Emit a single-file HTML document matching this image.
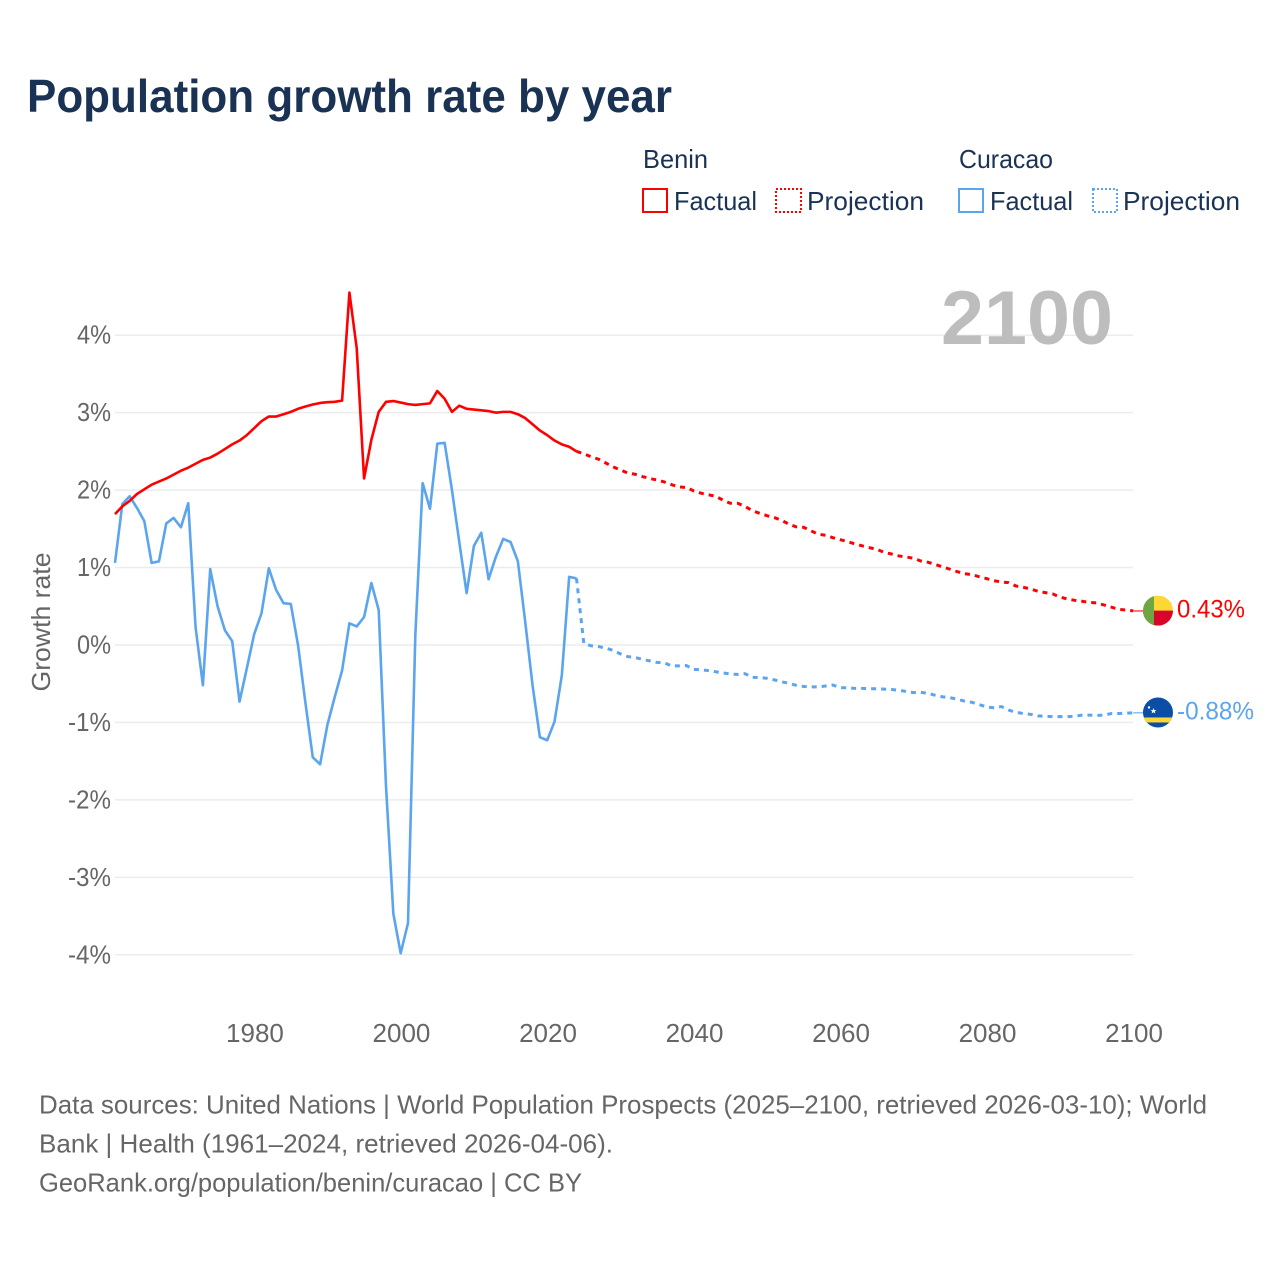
<!DOCTYPE html>
<html lang="en">
<head>
<meta charset="utf-8">
<title>Population growth rate by year</title>
<style>
html,body{margin:0;padding:0;background:#fff;}
svg{display:block;font-family:"Liberation Sans",sans-serif;}
</style>
</head>
<body>
<svg id="chart" xmlns="http://www.w3.org/2000/svg" width="1280" height="1280" viewBox="0 0 1280 1280">
  <rect x="0" y="0" width="1280" height="1280" fill="#fff"/>
  <text x="27" y="112" font-size="46" font-weight="700" fill="#1a3355" textLength="645" lengthAdjust="spacingAndGlyphs">Population growth rate by year</text>

  <g font-size="26" fill="#1a3355">
    <text x="643" y="168" textLength="65" lengthAdjust="spacingAndGlyphs">Benin</text>
    <rect x="643" y="189" width="24" height="23" fill="none" stroke="#ff0000" stroke-width="2"/>
    <text x="674" y="210" textLength="83" lengthAdjust="spacingAndGlyphs">Factual</text>
    <rect x="776" y="189" width="25" height="23" fill="none" stroke="#ff0000" stroke-width="2" stroke-dasharray="2 2"/>
    <text x="807" y="210" textLength="117" lengthAdjust="spacingAndGlyphs">Projection</text>

    <text x="959" y="168" textLength="94" lengthAdjust="spacingAndGlyphs">Curacao</text>
    <rect x="959" y="189" width="24" height="23" fill="none" stroke="#5ba4ee" stroke-width="2"/>
    <text x="990" y="210" textLength="83" lengthAdjust="spacingAndGlyphs">Factual</text>
    <rect x="1093" y="189" width="24" height="23" fill="none" stroke="#5ba4ee" stroke-width="2" stroke-dasharray="2 2"/>
    <text x="1123" y="210" textLength="117" lengthAdjust="spacingAndGlyphs">Projection</text>
  </g>

  <g id="grid"></g>
  <g id="y-axis" font-size="26" fill="#666"></g>
  <g id="x-axis" font-size="26" fill="#666"></g>

  <text x="941" y="344" font-size="76" font-weight="700" fill="#bdbdbd" textLength="172" lengthAdjust="spacingAndGlyphs">2100</text>
  <text transform="translate(50 622) rotate(-90)" text-anchor="middle" font-size="26" fill="#666" textLength="139" lengthAdjust="spacingAndGlyphs">Growth rate</text>

  <g id="series"></g>

  <g id="flag-benin">
    <clipPath id="clip-benin"><circle cx="15" cy="15" r="15"/></clipPath>
    <g clip-path="url(#clip-benin)">
      <rect x="0" y="0" width="30" height="30" fill="#fdd835"/>
      <rect x="0" y="15" width="30" height="15" fill="#d9042b"/>
      <rect x="0" y="0" width="11" height="30" fill="#6ea644"/>
    </g>
  </g>
  <g id="flag-curacao">
    <clipPath id="clip-curacao"><circle cx="15" cy="15" r="15"/></clipPath>
    <g clip-path="url(#clip-curacao)">
      <rect x="0" y="0" width="30" height="30" fill="#0a4ea6"/>
      <rect x="0" y="20" width="30" height="5" fill="#fdd835"/>
      <circle cx="6" cy="10" r="1.2" fill="#fff"/>
      <polygon points="10.5,10.5 11.3,12.6 13.5,12.6 11.8,13.9 12.4,16 10.5,14.8 8.6,16 9.2,13.9 7.5,12.6 9.7,12.6" fill="#fff"/>
    </g>
  </g>
  <text id="end-label-benin" x="1177" font-size="25" fill="#ff0000" textLength="68" lengthAdjust="spacingAndGlyphs"></text>
  <text id="end-label-curacao" x="1177" font-size="25" fill="#5ba4ee" textLength="77" lengthAdjust="spacingAndGlyphs"></text>

  <g font-size="26" fill="#666">
    <text x="39" y="1113.5" textLength="1168" lengthAdjust="spacingAndGlyphs">Data sources: United Nations | World Population Prospects (2025–2100, retrieved 2026-03-10); World</text>
    <text x="39" y="1152.5" textLength="574" lengthAdjust="spacingAndGlyphs">Bank | Health (1961–2024, retrieved 2026-04-06).</text>
    <text x="39" y="1191.5" textLength="543" lengthAdjust="spacingAndGlyphs">GeoRank.org/population/benin/curacao | CC BY</text>
  </g>
</svg>

<script>
// Chart data (percent growth per year)
const factualStartYear = 1961;
const projectionStartYear = 2024;
const xTickYears = [1980, 2000, 2020, 2040, 2060, 2080, 2100];
const yTickValues = [4, 3, 2, 1, 0, -1, -2, -3, -4];
const endLabelBenin = "0.43%";
const endLabelCuracao = "-0.88%";

const beninFactual = [
  1.69,1.79,1.86,1.95,2.01,2.07,2.11,2.15,2.20,2.25,
  2.29,2.34,2.39,2.42,2.47,2.53,2.59,2.64,2.71,2.80,
  2.89,2.95,2.95,2.98,3.01,3.05,3.08,3.105,3.125,3.135,
  3.14,3.155,4.55,3.83,2.15,2.65,3.01,3.14,3.15,3.13,
  3.11,3.10,3.11,3.12,3.28,3.18,3.01,3.09,3.05,3.04,
  3.03,3.02,3.00,3.01,3.01,2.98,2.93,2.85,2.77,2.71,
  2.64,2.59,2.56,2.50
];
const beninProjection = [
  2.50,2.47,2.43,2.40,2.35,2.30,2.26,2.22,2.205,2.175,
  2.15,2.13,2.105,2.07,2.04,2.035,1.99,1.96,1.94,1.92,
  1.87,1.83,1.83,1.79,1.735,1.70,1.67,1.645,1.61,1.56,
  1.525,1.52,1.475,1.43,1.417,1.385,1.36,1.335,1.305,1.28,
  1.257,1.235,1.197,1.175,1.15,1.137,1.12,1.085,1.068,1.04,
  1.007,0.978,0.947,0.92,0.908,0.88,0.857,0.83,0.814,0.805,
  0.762,0.745,0.723,0.694,0.676,0.66,0.62,0.594,0.577,0.565,
  0.55,0.543,0.517,0.49,0.46,0.452,0.44
];
const curacaoFactual = [
  1.06,1.82,1.92,1.77,1.60,1.06,1.08,1.57,1.64,1.52,
  1.83,0.23,-0.52,0.98,0.50,0.19,0.05,-0.73,-0.30,0.14,
  0.41,0.99,0.71,0.54,0.53,-0.01,-0.75,-1.45,-1.54,-1.03,
  -0.67,-0.33,0.28,0.24,0.36,0.80,0.45,-1.83,-3.47,-3.98,
  -3.59,0.13,2.09,1.76,2.60,2.61,2.00,1.33,0.67,1.28,
  1.45,0.85,1.14,1.37,1.33,1.08,0.30,-0.52,-1.19,-1.23,
  -0.99,-0.39,0.88,0.86
];
const curacaoProjection = [
  0.86,0.02,-0.01,-0.02,-0.04,-0.07,-0.115,-0.15,-0.16,-0.185,
  -0.205,-0.225,-0.23,-0.27,-0.27,-0.265,-0.315,-0.32,-0.33,-0.345,
  -0.36,-0.375,-0.38,-0.37,-0.417,-0.42,-0.43,-0.45,-0.475,-0.495,
  -0.52,-0.535,-0.54,-0.54,-0.53,-0.517,-0.55,-0.555,-0.56,-0.56,
  -0.565,-0.565,-0.57,-0.575,-0.585,-0.60,-0.615,-0.61,-0.625,-0.65,
  -0.67,-0.68,-0.70,-0.725,-0.74,-0.77,-0.80,-0.81,-0.795,-0.84,
  -0.87,-0.885,-0.895,-0.915,-0.92,-0.925,-0.925,-0.925,-0.92,-0.905,
  -0.905,-0.91,-0.905,-0.885,-0.885,-0.88,-0.875
];

const SVG_NS = "http://www.w3.org/2000/svg";
const xScale = function (year) { return 115 + (year - 1961) * (1133.2 - 115) / (2100 - 1961); };
const yScale = function (v) { return 645 - v * 77.45; };

function svgEl(tag, parent) {
  const el = document.createElementNS(SVG_NS, tag);
  parent.appendChild(el);
  return el;
}

// Gridlines and y tick labels
const gridGroup = document.getElementById("grid");
const yAxisGroup = document.getElementById("y-axis");
yTickValues.forEach(function (v) {
  const line = svgEl("line", gridGroup);
  
  
  line.setAttribute("x1", 115);
  line.setAttribute("x2", 1133);
  line.setAttribute("y1", yScale(v));
  line.setAttribute("y2", yScale(v));
  line.setAttribute("stroke", "#ececec");
  line.setAttribute("stroke-width", "1.5");

  const label = svgEl("text", yAxisGroup);
  
  
  label.setAttribute("x", 111);
  label.setAttribute("y", yScale(v) + 8.5);
  label.setAttribute("text-anchor", "end");
  label.setAttribute("textLength", v < 0 ? 43 : 34);
  label.setAttribute("lengthAdjust", "spacingAndGlyphs");
  label.textContent = v + "%";
});

// X tick labels
const xAxisGroup = document.getElementById("x-axis");
xTickYears.forEach(function (year) {
  const label = svgEl("text", xAxisGroup);
  
  
  label.setAttribute("x", xScale(year) + 0.8);
  label.setAttribute("y", 1042);
  label.setAttribute("text-anchor", "middle");
  label.textContent = year;
});

// Series lines
const seriesGroup = document.getElementById("series");
function toPoints(values, startYear) {
  return values.map(function (v, i) {
    return xScale(startYear + i).toFixed(2) + "," + yScale(v).toFixed(2);
  }).join(" ");
}
function drawLine(values, startYear, color, dashed, name) {
  const pl = svgEl("polyline", seriesGroup);
  
  
  pl.setAttribute("points", toPoints(values, startYear));
  pl.setAttribute("fill", "none");
  pl.setAttribute("stroke", color);
  pl.setAttribute("stroke-width", dashed ? "3" : "2.6");
  pl.setAttribute("stroke-linejoin", "round");
  if (dashed) pl.setAttribute("stroke-dasharray", "5 5");
}
drawLine(curacaoProjection, projectionStartYear, "#5ba4ee", true, "curacao-projection-line");
drawLine(beninProjection, projectionStartYear, "#ff0000", true, "benin-projection-line");
drawLine(curacaoFactual, factualStartYear, "#5ba4ee", false, "curacao-factual-line");
drawLine(beninFactual, factualStartYear, "#ff0000", false, "benin-factual-line");

// End markers: connector, flag and value label follow the final values
function placeEnd(values, color, flagId, labelId, text, connectorName) {
  const y = yScale(values[values.length - 1]);
  const c = svgEl("line", seriesGroup);
  
  
  c.setAttribute("x1", xScale(2100));
  c.setAttribute("x2", 1143);
  c.setAttribute("y1", y);
  c.setAttribute("y2", y);
  c.setAttribute("stroke", color);
  c.setAttribute("stroke-width", "1.5");
  c.setAttribute("opacity", "0.7");
  document.getElementById(flagId).setAttribute("transform", "translate(1143 " + (y - 15.3) + ")");
  const label = document.getElementById(labelId);
  label.setAttribute("y", y + 6.5);
  label.textContent = text;
}
placeEnd(beninProjection, "#ff0000", "flag-benin", "end-label-benin", endLabelBenin, "benin-end-connector");
placeEnd(curacaoProjection, "#5ba4ee", "flag-curacao", "end-label-curacao", endLabelCuracao, "curacao-end-connector");
</script>
</body>
</html>
